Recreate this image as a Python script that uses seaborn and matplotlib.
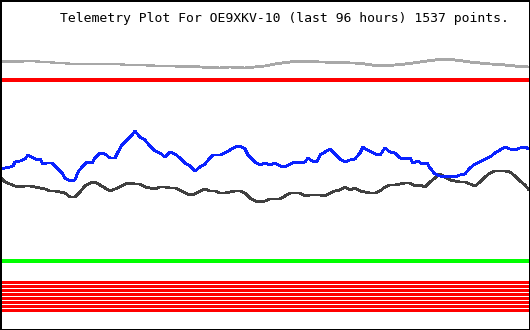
import matplotlib
matplotlib.use("Agg")
import matplotlib.pyplot as plt
import seaborn as sns
import pandas as pd

# ---- data (plot column index, plot row value; y axis runs downward) ----
title = "Telemetry Plot For OE9XKV-10 (last 96 hours) 1537 points."

blue_x = [0, 5, 10, 13, 15, 20, 25, 28, 33, 38, 40, 43, 47, 52, 58, 62, 65, 70, 75, 78,
          82, 87, 92, 95, 100, 105, 110, 115, 118, 122, 127, 132, 135, 140, 145, 150, 155,
          160, 165, 170, 175, 180, 185, 190, 195, 200, 205, 210, 213, 220, 225, 230, 235,
          240, 245, 248, 250, 255, 260, 265, 270, 275, 280, 285, 290, 295, 300, 305, 308,
          312, 317, 320, 325, 330, 335, 340, 345, 350, 355, 360, 363, 367, 370, 375, 380,
          385, 390, 395, 400, 405, 410, 413, 418, 422, 427, 430, 435, 440, 445, 450, 455,
          460, 465, 470, 475, 480, 485, 490, 495, 500, 505, 510, 515, 520, 525, 529]
blue_y = [169, 168, 167, 166, 162, 161, 159, 155, 158, 160, 159, 164, 163, 163, 169, 173,
          178, 181, 180, 172, 167, 162, 163, 158, 153, 154, 158, 158, 152, 145, 140, 135,
          131, 137, 140, 146, 151, 153, 157, 152, 154, 158, 163, 166, 171, 167, 164, 158,
          155, 155, 153, 150, 147, 146, 149, 155, 157, 162, 165, 163, 165, 163, 166, 167,
          164, 162, 163, 162, 158, 161, 162, 155, 152, 149, 154, 159, 162, 160, 159, 153,
          147, 150, 151, 154, 155, 148, 152, 153, 158, 159, 158, 163, 161, 164, 163, 168,
          174, 176, 177, 176, 177, 175, 174, 168, 164, 162, 159, 157, 153, 150, 147, 149,
          150, 148, 147, 149]

black_x = [0, 5, 10, 15, 20, 25, 30, 35, 40, 45, 50, 55, 60, 65, 70, 75, 80, 85, 90, 95,
           100, 105, 110, 115, 120, 125, 130, 135, 140, 145, 150, 155, 160, 165, 170, 175,
           180, 185, 190, 195, 200, 205, 210, 215, 220, 225, 230, 235, 240, 245, 250, 255,
           260, 265, 270, 275, 280, 285, 290, 295, 300, 305, 310, 315, 320, 325, 330, 335,
           340, 345, 350, 355, 360, 365, 370, 375, 380, 385, 390, 395, 400, 405, 410, 415,
           420, 425, 430, 435, 440, 445, 450, 455, 460, 465, 470, 475, 480, 485, 490, 495,
           500, 505, 510, 515, 520, 525, 529]
black_y = [177, 182, 184, 186, 187, 186, 186, 187, 188, 189, 191, 191, 192, 193, 197, 197,
           192, 186, 183, 182, 185, 188, 191, 189, 187, 184, 183, 184, 184, 187, 188, 189,
           187, 187, 188, 188, 190, 193, 195, 194, 191, 189, 191, 191, 193, 193, 192, 191,
           191, 193, 198, 201, 202, 201, 199, 199, 199, 196, 193, 193, 193, 196, 195, 195,
           195, 196, 193, 191, 190, 187, 190, 188, 191, 192, 193, 193, 191, 187, 185, 185,
           184, 183, 183, 186, 185, 187, 182, 178, 174, 177, 180, 181, 182, 182, 184, 186,
           182, 177, 173, 171, 171, 171, 172, 176, 181, 185, 190]

gray_x = [0, 8, 15, 25, 35, 40, 50, 55, 65, 70, 80, 100, 120, 125, 145, 155, 175, 180,
          190, 200, 220, 230, 245, 255, 265, 275, 285, 295, 325, 330, 355, 365, 375, 390,
          400, 410, 420, 430, 440, 450, 460, 470, 480, 490, 500, 510, 520, 529]
gray_y = [62, 61, 62, 61, 61, 62, 62, 63, 63, 64, 64, 64, 64, 65, 65, 66, 66, 67, 66, 67,
          68, 67, 68, 67, 66, 64, 62.5, 61.5, 62, 62.5, 63, 64, 65.5, 65.5, 64.5, 63.5, 62,
          60.5, 59.5, 59.5, 60.5, 62, 63, 64, 64.5, 65.5, 66.5, 67]

red_line_x = [0, 529]
red_line_y = [80, 80]

green_line_x = [0, 529]
green_line_y = [261, 261]

red_bar_levels = [281.5, 285.5, 289.5, 293.5, 297.5, 301.5, 305.5, 309.5]

# ---- plotting ----
sns.set_theme(style="white")
plt.rcParams["font.family"] = ["DejaVu Sans Mono", "DejaVu Sans"]

DPI = 100
fig = plt.figure(figsize=(5.30, 3.30), dpi=DPI)
ax = fig.add_axes([0, 0, 1, 1])
px = 72.0 / DPI  # one pixel in points

series = [
    (gray_x, gray_y, "#a8a8a8", 1.8),
    (red_line_x, red_line_y, "#ff0000", 2.2),
    (green_line_x, green_line_y, "#00ff00", 2.2),
    (black_x, black_y, "#404040", 1.8),
    (blue_x, blue_y, "#0a22ff", 1.8),
]
for xs, ys, col, w in series:
    df = pd.DataFrame({"x": xs, "y": ys})
    sns.lineplot(data=df, x="x", y="y", ax=ax, color=col, linewidth=w * px,
                 estimator=None, sort=False, antialiased=False)

for lvl in red_bar_levels:
    df = pd.DataFrame({"x": [0, 529], "y": [lvl, lvl]})
    sns.lineplot(data=df, x="x", y="y", ax=ax, color="#ff0000", linewidth=3 * px,
                 estimator=None, sort=False, antialiased=False)

ax.set_xlim(0, 530)
ax.set_ylim(330, 0)
ax.set_xticks([])
ax.set_yticks([])
ax.set_xlabel("")
ax.set_ylabel("")
for side, sp in ax.spines.items():
    sp.set_visible(True)
    sp.set_color("black")
    sp.set_linewidth(3.0 * px)

ax.text(60, 22, title, fontsize=9.43, color="black", ha="left", va="baseline",
        family=["DejaVu Sans Mono", "DejaVu Sans"])

fig.savefig("out.png", dpi=DPI, facecolor="white")
